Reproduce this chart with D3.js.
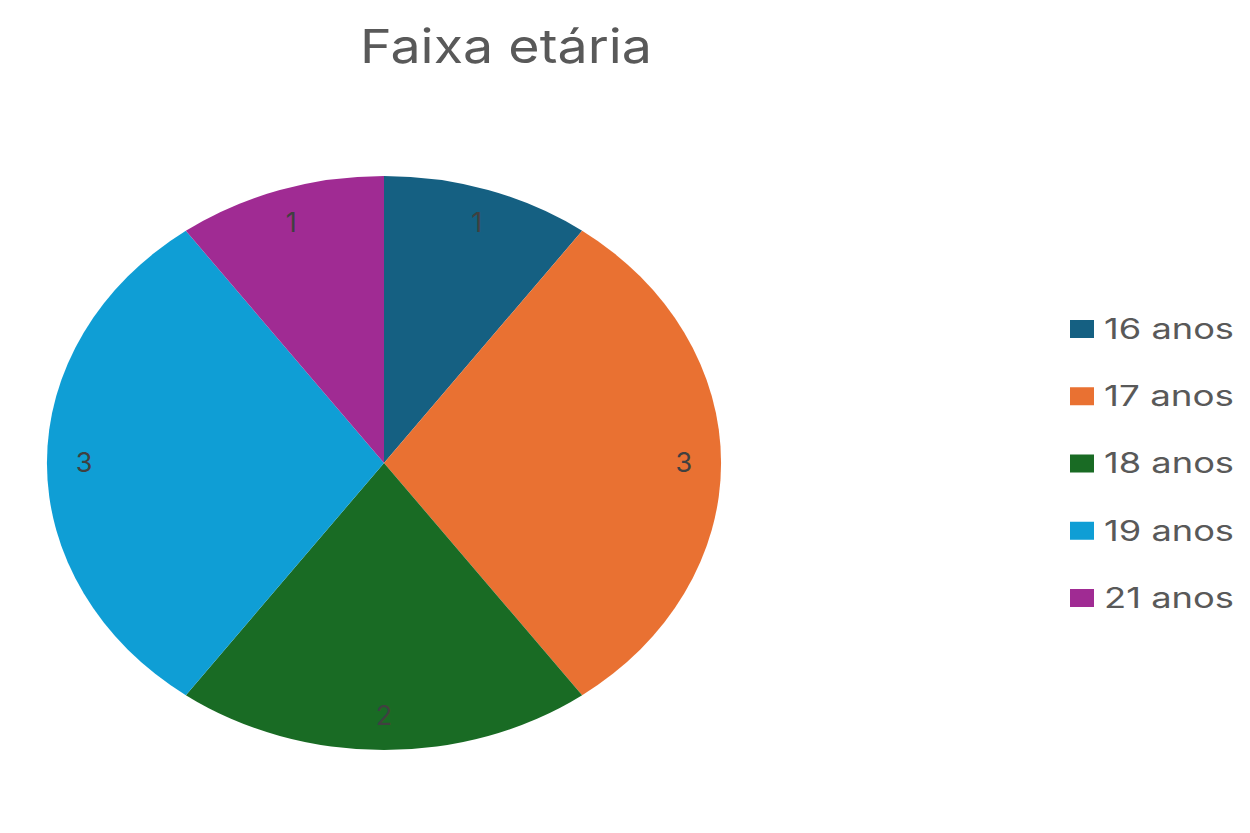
<!DOCTYPE html>
<html><head><meta charset="utf-8">
<script src="https://cdn.jsdelivr.net/npm/d3@7"></script>
<style>body{margin:0;background:#fff}svg{display:block}</style>
</head><body>
<script>
const categories = ["16 anos","17 anos","18 anos","19 anos","21 anos"];
const values = [1,3,2,3,1];
const colors = ["#156082","#E97132","#196B24","#0F9ED5","#A02B93"];
const title = "Faixa etária";

const W=1250,H=833;
const svg=d3.select("body").append("svg").attr("width",W).attr("height",H);
const font="Inter, 'Open Sans', sans-serif";

const cx=384, cy=463, rx=337, ry=287;
const pie=d3.pie().sort(null).value(d=>d)(values);
const arc=d3.arc().innerRadius(0).outerRadius(1);
const g=svg.append("g").attr("transform",`translate(${cx},${cy}) scale(${rx},${ry})`);
g.selectAll("path").data(pie).join("path")
  .attr("d",arc).attr("fill",(d,i)=>colors[i]).attr("stroke","none");

const lab=svg.append("g").attr("transform",`translate(${cx},${cy})`);
lab.selectAll("text").data(pie).join("text")
  .attr("x",d=>{const a=(d.startAngle+d.endAngle)/2;return Math.sin(a)*rx*0.89;})
  .attr("y",d=>{const a=(d.startAngle+d.endAngle)/2;return -Math.cos(a)*ry*0.88;})
  .attr("dy","0.35em").attr("text-anchor","middle")
  .attr("font-family",font).attr("font-size",27).attr("fill","#404040")
  .text(d=>d.data);

svg.append("text").attr("x",506).attr("y",63).attr("text-anchor","middle")
  .attr("font-family",font).attr("font-size",47).attr("fill","#595959")
  .attr("textLength",292).attr("lengthAdjust","spacingAndGlyphs").text(title);

const y=d3.scalePoint().domain(categories).range([329,598]);
const lg=svg.append("g");
const items=lg.selectAll("g").data(categories).join("g")
  .attr("transform",d=>`translate(1070,${y(d)})`);
items.append("rect").attr("x",0).attr("y",-9).attr("width",24).attr("height",18)
  .attr("fill",(d,i)=>colors[i]);
items.append("text").attr("x",34).attr("dy","0.35em")
  .attr("font-family",font).attr("font-size",28).attr("fill","#595959")
  .attr("textLength",130).attr("lengthAdjust","spacingAndGlyphs")
  .text(d=>d);
</script>
</body></html>
